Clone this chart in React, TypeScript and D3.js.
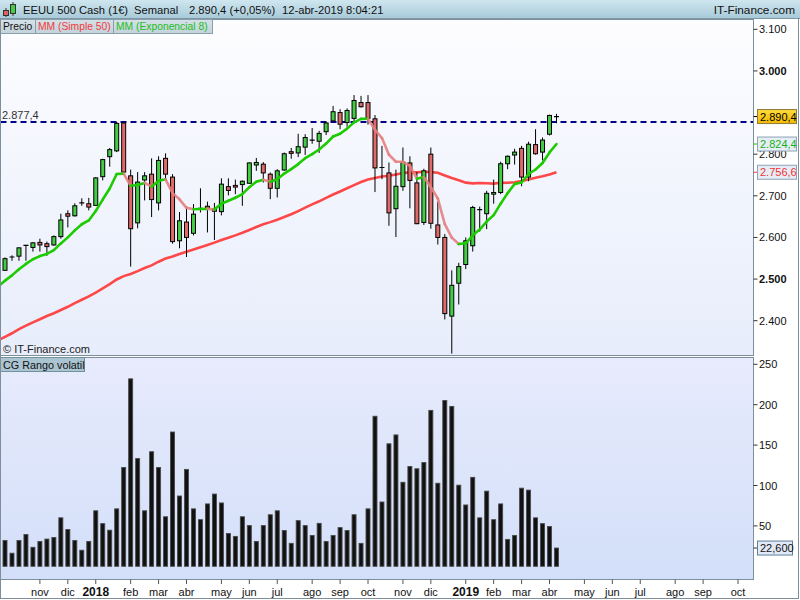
import React from "react";
import * as d3 from "d3";

// ---------- DATA ----------
const startWeek = new Date(2017, 9, 2); // Monday of first weekly bar

const opens = [2521,2551,2555,2578,2576,2588,2585,2582,2602,2657,
2652,2683,2681,2677,2746,2794,2808,2875,2748,2635,
2738,2752,2683,2790,2745,2592,2637,2610,2668,2675,
2669,2662,2722,2725,2727,2730,2774,2776,2752,2718,
2762,2806,2803,2817,2836,2831,2854,2880,2900,2876,
2886,2924,2924,2885,2765,2755,2669,2722,2779,2731,
2636,2800,2630,2600,2411,2490,2535,2580,2664,2657,
2704,2708,2777,2798,2814,2745,2823,2805,2848,2891];

const highs = [2552,2557,2576,2582,2589,2597,2590,2605,2657,2665,
2682,2694,2695,2745,2789,2815,2877.4,2876,2763,2757,
2757,2790,2795,2802,2752,2661,2675,2680,2718,2686,
2683,2742,2742,2739,2737,2780,2791,2781,2756,2764,
2804,2815,2849,2848,2863,2856,2877,2916,2908,2910,
2942,2940,2942,2894,2820,2780,2763,2816,2795,2757,
2765,2816,2686,2608,2521,2539,2600,2676,2674,2712,
2739,2782,2797,2813,2820,2830,2860,2840,2895,2897];

const lows = [2520,2544,2544,2544,2566,2566,2556,2580,2597,2624,
2650,2676,2665,2676,2737,2770,2805,2754,2530,2622,
2689,2649,2665,2740,2585,2574,2553,2605,2660,2612,
2594,2653,2701,2704,2676,2730,2760,2732,2692,2696,
2760,2789,2793,2798,2825,2803,2846,2878,2860,2866,
2878,2912,2871,2709,2740,2628,2601,2712,2670,2632,
2630,2621,2583,2403,2321,2439,2524,2566,2614,2620,
2681,2704,2764,2775,2723,2735,2799,2785,2845,2874.4];

const closes = [2549,2553,2575,2581,2587,2582,2578,2602,2642,2651,
2676,2683,2673,2743,2787,2811,2874,2757,2621,2733,
2748,2691,2785,2752,2590,2640,2600,2656,2670,2670,
2663,2728,2713,2721,2735,2779,2780,2755,2718,2760,
2801,2802,2818,2840,2834,2850,2875,2902,2872,2905,
2929,2914,2886,2767,2768,2659,2723,2781,2737,2633,
2760,2634,2600,2417,2485,2530,2592,2672,2667,2706,
2708,2777,2795,2805,2745,2824,2801,2834,2893,2890.4];

// CG Rango volatil (weekly range)
const ranges = [32,16.2,32,39.4,23.5,30.8,33.7,35.7,60,45.5,
32,19.9,30.8,68.7,52.8,44.7,71.1,122.3,232,133.3,
68.7,141.8,122.3,61.3,166.2,87,119.9,71.1,57.7,77.2,
89.4,78.4,40.6,37,61.3,50.4,30.8,50.4,63.8,68.7,
44.3,28.4,56.5,50.4,38.2,53.2,30.8,38.2,47.9,44.3,
63.8,28.4,71.1,185.7,79.6,151.6,162.6,104,123.5,120.7,
128.4,193,102.8,205.2,197.9,100.4,75.9,110.1,60,93,
57.7,77.2,33.3,38.2,96.7,94.3,60,52.8,49.2,22.6];

// MM (Exponencial 8) — value before first bar, then one per bar
const emaBefore = 2481.2;
const ema8 = [2496.3,2508.9,2523.6,2536.4,2547.6,2555.2,2560.3,2569.6,2585.7,2600.2,
2617.0,2631.7,2640.9,2663.6,2691.0,2717.7,2752.4,2753.4,2724.0,2726.0,
2730.9,2722.0,2736.0,2739.6,2706.4,2691.6,2671.2,2667.8,2668.3,2668.7,
2667.4,2680.9,2688.0,2695.3,2704.1,2720.7,2733.9,2738.6,2734.0,2739.8,
2753.4,2764.2,2776.2,2790.4,2800.1,2811.2,2825.4,2842.4,2849.0,2861.4,
2876.4,2884.8,2885.1,2858.8,2838.6,2798.7,2781.9,2781.7,2771.8,2741.0,
2745.2,2720.5,2693.7,2632.2,2599.5,2584.1,2585.9,2605.0,2618.8,2638.2,
2653.7,2681.1,2706.4,2728.3,2732.0,2752.4,2763.2,2778.9,2804.2,2824.4];

// MM (Simple 50)
const smaBefore = 2353.1;
const sma50 = [2361.3,2369.8,2379.6,2388.0,2396.1,2403.4,2411.2,2418.0,2425.7,2433.4,
2442.2,2450.3,2458.3,2467.7,2477.5,2487.8,2499.0,2507.1,2512.2,2519.2,
2526.7,2532.9,2541.7,2549.5,2554.2,2560.4,2565.5,2570.9,2576.3,2581.9,
2587.5,2593.8,2599.2,2605.0,2611.1,2617.9,2625.0,2631.6,2636.8,2642.6,
2649.1,2655.7,2663.2,2671.5,2679.3,2686.8,2695.1,2703.1,2710.5,2718.2,
2725.8,2733.0,2739.3,2743.0,2746.6,2748.1,2751.0,2754.6,2756.5,2756.2,
2757.8,2756.8,2755.4,2748.9,2742.8,2737.2,2731.6,2729.9,2730.8,2730.2,
2729.4,2731.2,2731.4,2732.4,2735.5,2739.2,2743.2,2746.8,2751.2,2756.6];

const refLevel = 2877.4;
// 2.900 is hidden behind the last-price box in the reference
const priceTicks = [3100, 3000, 2800, 2700, 2600, 2500, 2400];
const boldPriceTicks = [3000, 2500];
const volTicks = [250, 200, 150, 100, 50];
const monthLabels = ["nov","dic","2018","feb","mar","abr","may","jun","jul","ago","sep","oct",
  "nov","dic","2019","feb","mar","abr","may","jun","jul","ago","sep","oct"];
const firstMonth = new Date(2017, 10, 1);

// ---------- LAYOUT ----------
const PX0 = 0.5, PX1 = 753.5, PY0 = 19.5, PY1 = 355.5;
const VY0 = 357.5, VY1 = 579.5;
const FONT = "'Liberation Sans', Arial, sans-serif";

const locale = d3.formatLocale({ decimal: ",", thousands: ".", grouping: [3], currency: ["", "€"] });
const fmtInt = locale.format(",.0f");
const fmt1 = locale.format(",.1f");
const fmt3 = locale.format(",.3f");

const x = d3.scaleTime().domain([startWeek, new Date(2019, 9, 7)]).range([5, 738]);
const yP = d3.scaleLinear().domain([2400, 3100]).range([320.7, 29.3]);
const yV = d3.scaleLinear().domain([0, 250]).range([566.3, 364.3]);

const dates = closes.map((_, i) => d3.timeMonday.offset(startWeek, i));
const dateBefore = d3.timeMonday.offset(startWeek, -1);

const GREEN = "#45cc45";
const RED = "#e06a6a";

export default function App() {
  React.useEffect(() => {
    document.body.style.margin = "0";
  }, []);

  const lineP = d3.line<[Date, number]>().x(d => x(d[0])).y(d => yP(d[1]));
  const smaPts: [Date, number][] = [[dateBefore, smaBefore], ...sma50.map((v, i) => [dates[i], v] as [Date, number])];
  const emaPts: [Date, number][] = [[dateBefore, emaBefore], ...ema8.map((v, i) => [dates[i], v] as [Date, number])];

  const emaSegs = emaPts.slice(1).map((p, i) => {
    const prev = emaPts[i];
    const up = p[1] >= prev[1];
    return <path key={"e" + i} d={lineP([prev, p]) || ""} stroke={up ? "#1ccc00" : "#e58080"}
      strokeOpacity={up ? 1 : 0.9} strokeWidth={2.6} fill="none" strokeLinecap="round" />;
  });

  const monthTicks = monthLabels.map((lab, k) => {
    const d = d3.timeMonday.ceil(d3.timeMonth.offset(firstMonth, k));
    return { lab, xx: x(d), year: /^\d{4}$/.test(lab) };
  });

  const lastClose = closes[closes.length - 1];
  const lastEma = ema8[ema8.length - 1];
  const lastSma = sma50[sma50.length - 1];
  const lastRange = ranges[ranges.length - 1];

  const bw = 4;

  return (
    <svg width={800} height={600} style={{ position: "fixed", left: 0, top: 0, background: "#fff" }}
      fontFamily={FONT}>
      <defs>
        <linearGradient id="hdr" x1="0" y1="0" x2="0" y2="1">
          <stop offset="0" stopColor="#cfe6ef" />
          <stop offset="1" stopColor="#a6c9d8" />
        </linearGradient>
        <linearGradient id="pbg" x1="0" y1="0" x2="0" y2="1">
          <stop offset="0" stopColor="#fdfdff" />
          <stop offset="1" stopColor="#e7edfb" />
        </linearGradient>
        <linearGradient id="vbg" x1="0" y1="0" x2="0" y2="1">
          <stop offset="0" stopColor="#e7ebfc" />
          <stop offset="1" stopColor="#d3dff9" />
        </linearGradient>
        <linearGradient id="gold" x1="0" y1="0" x2="0" y2="1">
          <stop offset="0" stopColor="#ffdc3a" />
          <stop offset="1" stopColor="#f2b900" />
        </linearGradient>
        <linearGradient id="tab" x1="0" y1="0" x2="0" y2="1">
          <stop offset="0" stopColor="#d6e1e8" />
          <stop offset="1" stopColor="#c3d2db" />
        </linearGradient>
        <clipPath id="cp"><rect x={PX0} y={PY0} width={PX1 - PX0} height={PY1 - PY0} /></clipPath>
        <clipPath id="cv"><rect x={PX0} y={VY0} width={PX1 - PX0} height={VY1 - VY0} /></clipPath>
      </defs>

      {/* header */}
      <rect x={0} y={0} width={800} height={19} fill="url(#hdr)" />
      <line x1={0} x2={800} y1={18.5} y2={18.5} stroke="#7f97a5" />
      {/* icon */}
      <line x1={6} x2={6} y1={8} y2={17} stroke="#333" />
      <rect x={3.5} y={10.5} width={5} height={5} fill="#e06060" stroke="#333" />
      <line x1={13} x2={13} y1={2} y2={16} stroke="#333" />
      <rect x={10.5} y={4.5} width={5} height={9} fill="#44cc44" stroke="#333" />
      <g fontSize={11.2} fill="#111">
        <text x={23} y={14}>EEUU 500 Cash (1€)</text>
        <text x={134} y={14}>Semanal</text>
        <text x={189} y={14}>{fmt1(lastClose)} (+0,05%)</text>
        <text x={282} y={14}>12-abr-2019 8:04:21</text>
      </g>
      <text x={795} y={14} textAnchor="end" fontSize={11.8} fill="#111">IT-Finance.com</text>

      {/* price panel */}
      <rect x={PX0} y={PY0} width={PX1 - PX0} height={PY1 - PY0} fill="url(#pbg)" />
      <g clipPath="url(#cp)">
        <path d={lineP(smaPts) || ""} stroke="#ff3838" strokeOpacity={0.92} strokeWidth={2.6} fill="none" />
        <line x1={PX0} x2={PX1} y1={yP(refLevel)} y2={yP(refLevel)} stroke="#000088" strokeWidth={2} strokeDasharray="6,4" />
        {closes.map((c, i) => {
          const cx = x(dates[i]);
          const o = opens[i];
          const yo = yP(o), yc = yP(c);
          const top = Math.min(yo, yc);
          const h = Math.abs(yo - yc);
          return (
            <g key={"c" + i}>
              <line x1={cx} x2={cx} y1={yP(highs[i])} y2={yP(lows[i])} stroke="#000" strokeWidth={1} />
              {h < 1.6 ? (
                <line x1={cx - 2.5} x2={cx + 2.5} y1={yc} y2={yc} stroke="#000" strokeWidth={1.2} />
              ) : (
                <rect x={cx - bw / 2} y={top} width={bw} height={h} fill={c >= o ? GREEN : RED} stroke="#000" strokeWidth={1} />
              )}
            </g>
          );
        })}
        {emaSegs}
      </g>
      <text x={2} y={yP(refLevel) - 3} fontSize={11} fill="#333">{fmt1(refLevel)}</text>
      <text x={3} y={353} fontSize={11} fill="#222">© IT-Finance.com</text>
      <rect x={PX0} y={PY0} width={PX1 - PX0} height={PY1 - PY0} fill="none" stroke="#7d8e9c" />

      {/* legend tabs */}
      <g fontSize={10.3}>
        <rect x={0.5} y={19.5} width={35} height={14} fill="url(#tab)" stroke="#8a9fac" />
        <text x={3} y={30} fill="#111">Precio</text>
        <rect x={35.5} y={19.5} width={78} height={14} fill="url(#tab)" stroke="#8a9fac" />
        <text x={38} y={30} fill="#f03a3a">MM (Simple 50)</text>
        <rect x={113.5} y={19.5} width={99} height={14} fill="url(#tab)" stroke="#8a9fac" />
        <text x={116} y={30} fill="#1cbf1c">MM (Exponencial 8)</text>
      </g>

      {/* price axis */}
      <g fontSize={11} fill="#111">
        {priceTicks.map(v => (
          <g key={"pt" + v}>
            <line x1={753.5} x2={757.5} y1={yP(v)} y2={yP(v)} stroke="#333" />
            <text x={759} y={yP(v) + 4} fontWeight={boldPriceTicks.includes(v) ? "bold" : "normal"}>{fmt3(v / 1000).replace(",", ".").slice(0, 5)}</text>
          </g>
        ))}
      </g>
      {/* value boxes */}
      <line x1={753.5} x2={758} y1={yP(lastSma)} y2={yP(lastSma)} stroke="#ff3838" />
      <rect x={757.5} y={yP(lastSma) - 7} width={39} height={14} fill="#e6edf7" stroke="#8ea3b5" />
      <text x={760} y={yP(lastSma) + 4} fontSize={11} fill="#f03333">{fmt1(lastSma)}</text>
      <line x1={753.5} x2={758} y1={yP(lastEma)} y2={yP(lastEma)} stroke="#1ccc00" />
      <rect x={757.5} y={yP(lastEma) - 7} width={39} height={14} fill="#e6edf7" stroke="#8ea3b5" />
      <text x={760} y={yP(lastEma) + 4} fontSize={11} fill="#16b016">{fmt1(lastEma)}</text>
      <line x1={753.5} x2={758} y1={yP(lastClose)} y2={yP(lastClose)} stroke="#000" />
      <rect x={757.5} y={yP(lastClose) - 7} width={39} height={14} fill="url(#gold)" stroke="#8c7a3a" />
      <text x={760} y={yP(lastClose) + 4} fontSize={11} fill="#000">{fmt1(lastClose)}</text>

      {/* volume panel */}
      <rect x={PX0} y={VY0} width={PX1 - PX0} height={VY1 - VY0} fill="url(#vbg)" />
      <g clipPath="url(#cv)">
        {ranges.map((r, i) => {
          const cx = x(dates[i]);
          return <rect key={"v" + i} x={cx - 2} y={yV(r)} width={4} height={yV(0) - yV(r)} fill="#111" stroke="#4a4a4a" strokeWidth={0.9} />;
        })}
      </g>
      <rect x={PX0} y={VY0} width={PX1 - PX0} height={VY1 - VY0} fill="none" stroke="#7d8e9c" />
      <rect x={0.5} y={357.5} width={84} height={14} fill="#aac5d1" stroke="#7391a0" />
      <text x={3} y={368.5} fontSize={10.8} fill="#111">CG Rango volatil</text>
      <g fontSize={11} fill="#111">
        {volTicks.map(v => (
          <g key={"vt" + v}>
            <line x1={753.5} x2={757.5} y1={yV(v)} y2={yV(v)} stroke="#333" />
            <text x={759} y={yV(v) + 4}>{fmtInt(v)}</text>
          </g>
        ))}
      </g>
      <line x1={753.5} x2={758} y1={yV(lastRange)} y2={yV(lastRange)} stroke="#333" />
      <rect x={757.5} y={yV(lastRange) - 7} width={35} height={14} fill="#e2eaf8" stroke="#5f7f99" />
      <text x={760} y={yV(lastRange) + 4} fontSize={11} fill="#111">{locale.format(",.3f")(lastRange)}</text>

      {/* time axis */}
      <g>
        {monthTicks.map((t, k) => (
          <g key={"m" + k}>
            <line x1={t.xx} x2={t.xx} y1={579.5} y2={584} stroke="#555" />
            <text x={t.xx} y={596} textAnchor="middle" fontSize={t.year ? 12 : 11}
              fontWeight={t.year ? "bold" : "normal"} fill="#111">{t.lab}</text>
          </g>
        ))}
      </g>

      {/* outer frame */}
      <line x1={798.5} x2={798.5} y1={19} y2={599} stroke="#7d8e9c" />
      <line x1={0} x2={799} y1={598.5} y2={598.5} stroke="#7d8e9c" />
      <line x1={0.5} x2={0.5} y1={19} y2={599} stroke="#7d8e9c" />
    </svg>
  );
}
